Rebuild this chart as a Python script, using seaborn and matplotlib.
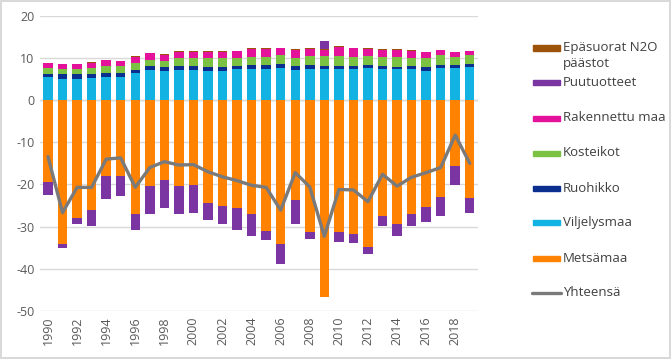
import numpy as np
import seaborn as sns
import matplotlib.pyplot as plt
from matplotlib.patches import Rectangle
from matplotlib.lines import Line2D

years = list(range(1990, 2020))

viljelysmaa = [5.4, 5.1, 5.1, 5.3, 5.6, 5.6, 6.4, 7.2, 7.0, 7.2, 7.2, 7.0, 7.0, 7.3, 7.4,
               7.4, 7.6, 7.2, 7.4, 7.3, 7.4, 7.4, 7.6, 7.3, 7.3, 7.3, 7.0, 7.7, 7.7, 7.9]
ruohikko = [0.9, 1.0, 1.0, 1.0, 0.9, 0.9, 0.8, 0.8, 0.8, 0.8, 0.8, 0.8, 0.9, 0.8, 1.0,
            1.0, 1.0, 0.9, 0.9, 0.9, 0.8, 0.7, 0.7, 0.7, 0.6, 0.7, 0.8, 0.7, 0.7, 0.7]
kosteikot = [1.4, 1.2, 1.3, 1.3, 1.5, 1.5, 1.6, 1.6, 1.5, 2.0, 2.0, 2.1, 2.1, 2.0, 1.8,
             1.9, 2.1, 1.9, 2.2, 2.2, 2.3, 2.2, 2.1, 2.3, 2.3, 2.0, 2.2, 2.2, 1.9, 2.1]
rakennettu = [1.0, 1.2, 1.1, 1.3, 1.4, 1.2, 1.4, 1.5, 1.4, 1.4, 1.4, 1.5, 1.5, 1.5, 1.9,
              1.8, 1.6, 1.9, 1.6, 1.6, 2.1, 2.0, 1.8, 1.7, 1.7, 1.7, 1.3, 1.2, 1.0, 0.9]
n2o = [0.15] * 30
puutuotteet = [-2.9, -0.9, -1.5, -3.7, -5.4, -4.9, -4.0, -6.7, -6.6, -6.5, -6.5, -4.1, -4.3, -5.0, -5.3,
               -2.1, -4.6, -5.6, -1.7, 1.9, -2.3, -2.1, -1.6, -2.3, -2.9, -2.9, -3.7, -4.6, -4.6, -3.5]
metsamaa = [-19.5, -34.2, -27.9, -26.1, -18.0, -17.9, -26.9, -20.4, -19.0, -20.4, -20.2, -24.4, -25.2, -25.7, -26.9,
            -31.0, -34.2, -23.7, -31.3, -46.8, -31.4, -31.8, -34.8, -27.5, -29.3, -26.9, -25.3, -22.9, -15.6, -23.2]
yhteensa = [-13.4, -26.7, -20.7, -20.7, -14.0, -13.7, -20.7, -16.0, -14.6, -15.4, -15.3, -17.0, -18.2, -19.1, -20.2,
            -20.7, -26.1, -17.2, -20.6, -32.3, -21.2, -21.3, -24.1, -17.6, -20.4, -18.3, -17.2, -16.0, -8.3, -15.0]

colors = {
    'Epäsuorat N2O\npäästot': '#9c5208',
    'Puutuotteet': '#7a35a3',
    'Rakennettu maa': '#e4129b',
    'Kosteikot': '#7cc242',
    'Ruohikko': '#0b2f8f',
    'Viljelysmaa': '#12b2e3',
    'Metsämaa': '#ff8200',
}
line_color = '#7a7a7a'

sns.set_theme(style='white')
plt.rcParams['font.family'] = ['Open Sans', 'DejaVu Sans']
plt.rcParams['axes.unicode_minus'] = False

fig = plt.figure(figsize=(6.71, 3.59), dpi=100)
fig.patch.set_edgecolor('#d9d9d9')
fig.patch.set_linewidth(1.5)
ax = fig.add_axes([0.0596, 0.134, 0.6524, 0.822])

w = 0.65
pos_bottom = np.zeros(30)
for name, vals in [('Viljelysmaa', viljelysmaa), ('Ruohikko', ruohikko), ('Kosteikot', kosteikot),
                   ('Rakennettu maa', rakennettu), ('Epäsuorat N2O\npäästot', n2o)]:
    sns.barplot(x=years, y=vals, bottom=pos_bottom.copy(), color=colors[name], width=w,
                saturation=1, errorbar=None, ax=ax, linewidth=0)
    pos_bottom += np.array(vals)

sns.barplot(x=years, y=metsamaa, color=colors['Metsämaa'], width=w, saturation=1,
            errorbar=None, ax=ax, linewidth=0)
puu = np.array(puutuotteet)
puu_bottom = np.where(puu < 0, np.array(metsamaa), pos_bottom)
sns.barplot(x=years, y=puutuotteet, bottom=puu_bottom, color=colors['Puutuotteet'], width=w,
            saturation=1, errorbar=None, ax=ax, linewidth=0)

sns.lineplot(x=np.arange(30), y=yhteensa, color=line_color, linewidth=2.4, ax=ax)

ax.set_ylim(-50, 20)
ax.set_xlim(-0.55, 29.55)
ax.set_yticks(range(-50, 21, 10))
ax.set_xticks(range(0, 30, 2))
ax.set_xticklabels([str(y) for y in years[::2]], rotation=90)
ax.tick_params(axis='both', labelsize=9, colors='#595959', length=0, pad=4)
ax.grid(axis='y', color='#d9d9d9', linewidth=1)
ax.set_axisbelow(True)
ax.axhline(0, color='#d9d9d9', linewidth=1, zorder=0.5)
for s in ax.spines.values():
    s.set_visible(False)
ax.set_xlabel('')
ax.set_ylabel('')

# legend on the right
legend_items = [('Epäsuorat N2O\npäästot', 48), ('Puutuotteet', 82), ('Rakennettu maa', 118),
                ('Kosteikot', 153), ('Ruohikko', 188), ('Viljelysmaa', 223), ('Metsämaa', 258)]
H, W = 359, 671
for name, ypx in legend_items:
    fig.add_artist(Rectangle((533 / W, 1 - (ypx + 2.5) / H), 27 / W, 5 / H,
                             transform=fig.transFigure, color=colors[name]))
    fig.text(563 / W, 1 - ypx / H, name.split('\n')[0], fontsize=9.5, color='#404040',
             va='center', ha='left')
    if '\n' in name:
        fig.text(563 / W, 1 - (ypx + 16) / H, name.split('\n')[1], fontsize=9.5, color='#404040',
                 va='center', ha='left')
fig.add_artist(Line2D([532 / W, 561 / W], [1 - 293 / H, 1 - 293 / H], transform=fig.transFigure,
                      color=line_color, linewidth=2.4))
fig.text(563 / W, 1 - 293 / H, 'Yhteensä', fontsize=9.5, color='#404040', va='center', ha='left')

plt.savefig('out.png', dpi=100)
